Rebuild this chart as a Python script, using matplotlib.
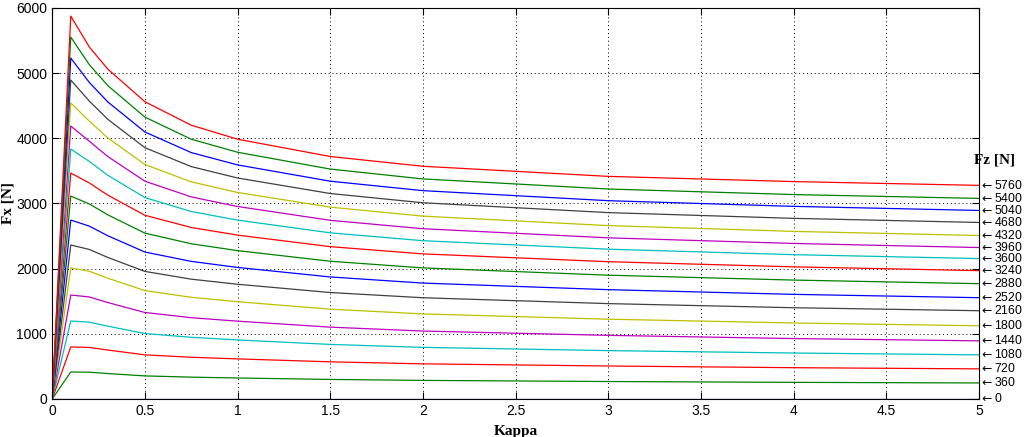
import numpy as np
import matplotlib
matplotlib.use("Agg")
import matplotlib.pyplot as plt

# slip ratio samples
kappa = [0, 0.1, 0.2, 0.3, 0.5, 0.75, 1.0, 1.5, 2.0, 3.0, 4.0, 5.0]

# vertical loads (N)
fz = [0, 360, 720, 1080, 1440, 1800, 2160, 2520, 2880,
      3240, 3600, 3960, 4320, 4680, 5040, 5400, 5760]

# longitudinal force curves, one list per load
fx_0 = [0, 0, 0, 0, 0, 0, 0, 0, 0, 0, 0, 0]
fx_360 = [0, 414, 411, 390, 354, 335, 322, 300, 285, 268, 255, 246]
fx_720 = [0, 798, 791, 751, 677, 640, 615, 570, 539, 506, 480, 462]
fx_1080 = [0, 1196, 1179, 1117, 1004, 946, 906, 837, 792, 742, 705, 677]
fx_1440 = [0, 1595, 1565, 1479, 1327, 1247, 1194, 1102, 1042, 976, 927, 892]
fx_1800 = [0, 2009, 1960, 1852, 1663, 1560, 1492, 1378, 1305, 1224, 1166, 1123]
fx_2160 = [0, 2362, 2294, 2171, 1957, 1838, 1760, 1633, 1553, 1463, 1400, 1354]
fx_2520 = [0, 2745, 2652, 2504, 2254, 2111, 2018, 1872, 1778, 1677, 1605, 1554]
fx_2880 = [0, 3113, 2992, 2825, 2544, 2381, 2276, 2113, 2011, 1899, 1824, 1769]
fx_3240 = [0, 3466, 3314, 3127, 2818, 2631, 2514, 2337, 2226, 2106, 2027, 1969]
fx_3600 = [0, 3834, 3644, 3432, 3090, 2876, 2744, 2549, 2428, 2298, 2214, 2154]
fx_3960 = [0, 4187, 3954, 3719, 3341, 3100, 2953, 2741, 2612, 2472, 2386, 2323]
fx_4320 = [0, 4540, 4264, 4004, 3597, 3331, 3168, 2943, 2805, 2660, 2571, 2508]
fx_4680 = [0, 4893, 4570, 4290, 3855, 3565, 3390, 3152, 3010, 2859, 2771, 2708]
fx_5040 = [0, 5230, 4856, 4557, 4096, 3780, 3591, 3341, 3196, 3042, 2955, 2892]
fx_5400 = [0, 5552, 5129, 4807, 4324, 3985, 3785, 3527, 3376, 3221, 3136, 3077]
fx_5760 = [0, 5874, 5400, 5060, 4560, 4200, 3985, 3720, 3570, 3415, 3335, 3277]

curves = [fx_0, fx_360, fx_720, fx_1080, fx_1440, fx_1800, fx_2160, fx_2520,
          fx_2880, fx_3240, fx_3600, fx_3960, fx_4320, fx_4680, fx_5040,
          fx_5400, fx_5760]

# old matlab colour order
cols = [(0, 0, 1), (0, 0.5, 0), (1, 0, 0), (0, 0.75, 0.75),
        (0.75, 0, 0.75), (0.75, 0.75, 0), (0.25, 0.25, 0.25)]

fs = 10
tick_font = ['Liberation Sans', 'DejaVu Sans']

fig = plt.figure(figsize=(10.24, 4.37), dpi=100)
ax = fig.add_axes([0.051, 0.087, 0.905, 0.895])

for i, (f, c) in enumerate(zip(fz, curves)):
    ax.plot(kappa, c, color=cols[i % 7], lw=0.9)
    ax.text(5.0, c[-1], r"$\leftarrow$" + str(f), fontsize=8.8, family=tick_font,
            ha='left', va='center', clip_on=False)

ax.set_xlim(0, 5)
ax.set_ylim(0, 6000)
ax.set_xticks(np.arange(0, 5.01, 0.5))
ax.set_xticklabels(["0", "0.5", "1", "1.5", "2", "2.5", "3", "3.5", "4", "4.5", "5"])
ax.set_yticks(np.arange(0, 6001, 1000))
ax.grid(True, color='k', linestyle=(0, (1, 3)), lw=0.7)
ax.tick_params(direction='in', top=True, right=True, length=5, labelsize=fs)
for lab in ax.get_xticklabels() + ax.get_yticklabels():
    lab.set_family(tick_font)
for sp in ax.spines.values():
    sp.set_linewidth(0.8)

ax.set_xlabel("Kappa", fontsize=11, family='Liberation Serif',
              fontweight='bold', labelpad=5)
ax.set_ylabel("Fx [N]", fontsize=11, family='Liberation Serif',
              fontweight='bold', labelpad=1)
fig.text(0.951, 0.634, "Fz [N]", fontsize=11, family='Liberation Serif',
         fontweight='bold', ha='left', va='center')

fig.savefig("out.png", dpi=100, facecolor='white')
